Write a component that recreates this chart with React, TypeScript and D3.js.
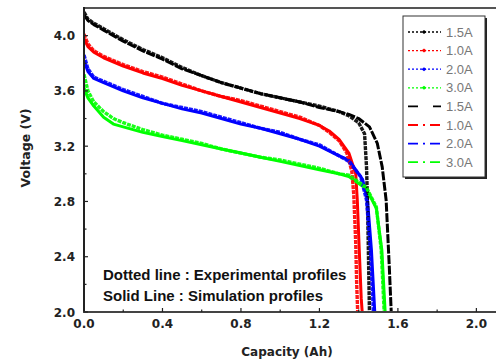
import React from "react";
import * as d3 from "d3";

type Pt = [number, number];

const xTicks = [0, 0.4, 0.8, 1.2, 1.6, 2.0];
const xMinor = [0.2, 0.6, 1.0, 1.4, 1.8];
const yTicks = [2.0, 2.4, 2.8, 3.2, 3.6, 4.0];
const yMinor = [2.2, 2.6, 3.0, 3.4, 3.8];

// Experimental profiles (dotted)
const exp15: Pt[] = [[0,4.17],[0.02,4.12],[0.05,4.09],[0.1,4.05],[0.2,3.97],[0.3,3.9],[0.4,3.84],[0.5,3.77],[0.6,3.71],[0.7,3.66],[0.8,3.62],[0.9,3.58],[1.0,3.55],[1.1,3.52],[1.2,3.49],[1.3,3.45],[1.35,3.42],[1.4,3.37],[1.43,3.29],[1.44,3.05],[1.445,2.8],[1.45,2.4],[1.455,2.0]];
const exp10: Pt[] = [[0,4.01],[0.02,3.94],[0.05,3.89],[0.1,3.85],[0.2,3.79],[0.3,3.74],[0.4,3.70],[0.5,3.65],[0.6,3.60],[0.7,3.56],[0.8,3.53],[0.9,3.49],[1.0,3.45],[1.1,3.41],[1.2,3.35],[1.25,3.30],[1.3,3.24],[1.34,3.15],[1.365,3.02],[1.375,2.85],[1.385,2.5],[1.39,2.2],[1.395,2.0]];
const exp20: Pt[] = [[0,3.86],[0.02,3.76],[0.05,3.70],[0.1,3.67],[0.2,3.61],[0.3,3.56],[0.4,3.51],[0.5,3.48],[0.6,3.45],[0.7,3.41],[0.8,3.37],[0.9,3.33],[1.0,3.30],[1.1,3.25],[1.2,3.21],[1.3,3.13],[1.35,3.09],[1.41,2.98],[1.44,2.81],[1.46,2.45],[1.475,2.0]];
const exp30: Pt[] = [[0,3.72],[0.02,3.60],[0.05,3.52],[0.1,3.45],[0.15,3.40],[0.2,3.37],[0.3,3.32],[0.4,3.28],[0.5,3.25],[0.6,3.22],[0.7,3.18],[0.8,3.15],[0.9,3.12],[1.0,3.10],[1.1,3.07],[1.2,3.04],[1.3,3.00],[1.35,2.99],[1.44,2.90],[1.49,2.76],[1.515,2.45],[1.53,2.0]];

// Simulation profiles (solid)
const sim15: Pt[] = [[0,4.15],[0.02,4.11],[0.05,4.08],[0.1,4.04],[0.2,3.96],[0.3,3.89],[0.4,3.83],[0.5,3.76],[0.6,3.71],[0.7,3.66],[0.8,3.62],[0.9,3.58],[1.0,3.55],[1.1,3.52],[1.2,3.48],[1.3,3.45],[1.35,3.43],[1.4,3.40],[1.455,3.34],[1.495,3.22],[1.52,3.05],[1.54,2.81],[1.556,2.33],[1.566,2.0]];
const sim10: Pt[] = [[0,3.98],[0.02,3.92],[0.05,3.88],[0.1,3.84],[0.2,3.78],[0.3,3.73],[0.4,3.69],[0.5,3.64],[0.6,3.60],[0.7,3.56],[0.8,3.52],[0.9,3.48],[1.0,3.44],[1.1,3.40],[1.2,3.35],[1.25,3.31],[1.3,3.25],[1.35,3.15],[1.385,3.0],[1.393,2.81],[1.403,2.45],[1.413,2.1],[1.418,2.0]];
const sim20: Pt[] = [[0,3.82],[0.02,3.74],[0.05,3.69],[0.1,3.66],[0.2,3.60],[0.3,3.55],[0.4,3.51],[0.5,3.47],[0.6,3.44],[0.7,3.40],[0.8,3.36],[0.9,3.33],[1.0,3.29],[1.1,3.25],[1.2,3.20],[1.3,3.13],[1.35,3.10],[1.42,2.96],[1.445,2.81],[1.465,2.45],[1.482,2.0]];
const sim30: Pt[] = [[0,3.62],[0.02,3.55],[0.05,3.49],[0.1,3.41],[0.15,3.36],[0.2,3.34],[0.3,3.30],[0.4,3.27],[0.5,3.24],[0.6,3.21],[0.7,3.18],[0.8,3.15],[0.9,3.12],[1.0,3.09],[1.1,3.06],[1.2,3.03],[1.3,3.00],[1.35,2.98],[1.44,2.89],[1.49,2.75],[1.518,2.45],[1.535,2.0]];

const seriesColors = ["#000000", "#ff0000", "#0000ff", "#00ff00"];
const legendLabels = ["1.5A", "1.0A", "2.0A", "3.0A", "1.5A", "1.0A", "2.0A", "3.0A"];
const noteLines = ["Dotted line : Experimental profiles", "Solid Line : Simulation profiles"];

const W = 496, H = 361;
const M = { left: 84, right: 0, top: 8, bottom: 49 };

export default function App() {
  const x = d3.scaleLinear().domain([0, 2.1]).range([M.left, W - M.right]);
  const y = d3.scaleLinear().domain([2.0, 4.2]).range([H - M.bottom, M.top]);
  const line = d3.line<Pt>().x(d => x(d[0])).y(d => y(d[1]));

  const exps = [exp15, exp10, exp20, exp30];
  const sims = [sim15, sim10, sim20, sim30];
  const bottom = y(2.0);
  const tickFont = { fontFamily: "DejaVu Sans", fontWeight: 700, fontSize: 12, fill: "#222" } as const;

  const legX = 403, legY = 16, legW = 82, legH = 161;
  const rowY = (i: number) => 32 + i * 18.6;

  return (
    <svg width={W} height={H} style={{ position: "absolute", left: 0, top: 0, background: "#fff" }}>
      <defs>
        <clipPath id="plot">
          <rect x={M.left} y={M.top} width={W - M.left} height={bottom - M.top} />
        </clipPath>
      </defs>
      <g clipPath="url(#plot)">
        {sims.map((s, i) => (
          <path key={"s" + i} d={line(s) || ""} fill="none" stroke={seriesColors[i]} strokeWidth={3}
            strokeDasharray={i === 0 ? "9,1.5" : undefined} strokeLinejoin="round" />
        ))}
        {exps.map((s, i) => (
          <path key={"e" + i} d={line(s) || ""} fill="none" stroke={seriesColors[i]} strokeWidth={3.4}
            strokeDasharray="4,1" strokeLinejoin="round" opacity={0.9} />
        ))}
      </g>
      {/* frame */}
      <line x1={M.left} x2={W} y1={M.top} y2={M.top} stroke="#555" strokeWidth={2} />
      <line x1={M.left} x2={M.left} y1={M.top - 1} y2={bottom} stroke="#222" strokeWidth={2} />
      <line x1={M.left - 1} x2={W} y1={bottom} y2={bottom} stroke="#444" strokeWidth={2} />
      {/* y ticks */}
      {yTicks.map(t => (
        <g key={"yt" + t}>
          <line x1={M.left} x2={M.left + 4} y1={y(t)} y2={y(t)} stroke="#222" strokeWidth={1.2} />
          <text x={75} y={y(t) + 4.5} textAnchor="end" {...tickFont}>{t.toFixed(1)}</text>
        </g>
      ))}
      {yMinor.map(t => (
        <line key={"ym" + t} x1={M.left} x2={M.left + 2.5} y1={y(t)} y2={y(t)} stroke="#222" strokeWidth={1.2} />
      ))}
      {/* x ticks */}
      {xTicks.map(t => (
        <g key={"xt" + t}>
          <line x1={x(t)} x2={x(t)} y1={bottom} y2={bottom - 4} stroke="#222" strokeWidth={1.2} />
          <text x={x(t)} y={bottom + 16} textAnchor="middle" {...tickFont}>{t.toFixed(1)}</text>
        </g>
      ))}
      {xMinor.map(t => (
        <line key={"xm" + t} x1={x(t)} x2={x(t)} y1={bottom} y2={bottom - 2.5} stroke="#222" strokeWidth={1.2} />
      ))}
      {/* axis titles */}
      <text x={287} y={356} textAnchor="middle" fontFamily="DejaVu Sans" fontWeight={700} fontSize={12} fill="#222">Capacity (Ah)</text>
      <text transform="translate(30,148) rotate(-90)" textAnchor="middle" fontFamily="DejaVu Sans" fontWeight={700} fontSize={12.5} fill="#222">Voltage (V)</text>
      {/* notes */}
      {noteLines.map((t, i) => (
        <text key={t} x={103} y={280 + i * 21} fontFamily="Liberation Sans, Arial, sans-serif" fontWeight={700} fontSize={15} fill="#111">{t}</text>
      ))}
      {/* legend */}
      <rect x={legX + 2} y={legY + 2} width={legW} height={legH} fill="#222" />
      <rect x={legX} y={legY} width={legW} height={legH} fill="#fff" stroke="#333" strokeWidth={1} />
      {legendLabels.map((lab, i) => {
        const c = seriesColors[i % 4];
        const yy = rowY(i);
        const isExp = i < 4;
        const dash = isExp ? "2,2" : i === 4 ? "10,15" : "10,5,2,5";
        return (
          <g key={"lg" + i}>
            <line x1={408} x2={441} y1={yy} y2={yy} stroke={c} strokeWidth={isExp ? 1.3 : 1.8} strokeDasharray={dash} />
            {isExp && <path d={`M${424},${yy - 2} l2.5,2 l-2.5,2 l-2.5,-2 z`} fill={c} />}
            <text x={446} y={yy + 4.5} fontFamily="Liberation Sans" fontSize={13} fill="#777">{lab}</text>
          </g>
        );
      })}
    </svg>
  );
}
